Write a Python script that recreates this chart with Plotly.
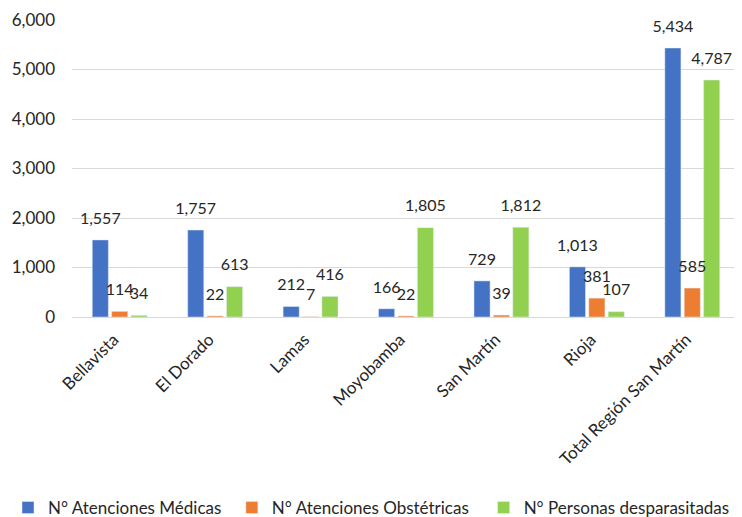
import plotly.graph_objects as go

# data
provincias = ["Bellavista", "El Dorado", "Lamas", "Moyobamba", "San Martín", "Rioja",
              "Total Región San Martín"]
atenciones_medicas = [1557, 1757, 212, 166, 729, 1013, 5434]
atenciones_obstetricas = [114, 22, 7, 22, 39, 381, 585]
personas_desparasitadas = [34, 613, 416, 1805, 1812, 107, 4787]

series = [
    ("N° Atenciones Médicas", atenciones_medicas, "#4472C4"),
    ("N° Atenciones Obstétricas", atenciones_obstetricas, "#ED7D31"),
    ("N° Personas desparasitadas", personas_desparasitadas, "#92D050"),
]
# left edge of each legend entry, as a fraction of the figure width
legend_x = [-0.004, 0.305, 0.648]

FONT = "Lato, 'Open Sans', sans-serif"
TXT = "#262626"

fig = go.Figure()

legend_names = ["legend", "legend2", "legend3"]
for i, (name, vals, color) in enumerate(series):
    fig.add_trace(go.Bar(
        x=provincias, y=vals, name=name, marker_color=color,
        offsetgroup=str(i), legend=legend_names[i],
    ))

# data labels, sitting a little above each bar (like the Excel labels)
for i, (name, vals, color) in enumerate(series):
    fig.add_trace(go.Scatter(
        x=provincias, y=vals, mode="markers+text",
        text=[f"{v:,}" for v in vals], textposition="top center",
        textfont=dict(size=16, color=TXT, family=FONT),
        marker=dict(size=18, color="rgba(0,0,0,0)"),
        offsetgroup=str(i), showlegend=False, hoverinfo="skip",
        cliponaxis=False,
    ))

# the page adds an 8px body margin, so the figure is 8px smaller than the window
fig.update_layout(
    width=734, height=509,
    margin=dict(l=64, r=2, t=12, b=200, autoexpand=False),
    paper_bgcolor="white", plot_bgcolor="white",
    font=dict(family=FONT, size=17, color=TXT),
    barmode="group", bargap=0.39, bargroupgap=0.17,
    scattermode="group", scattergap=0.39,
    showlegend=True,
)
for lname, lx in zip(legend_names, legend_x):
    fig.update_layout({lname: dict(
        orientation="h", xref="container", yref="paper",
        x=lx, xanchor="left", y=-0.643, yanchor="middle",
        font=dict(size=17, color=TXT), itemwidth=30,
        bgcolor="rgba(0,0,0,0)",
    )})

fig.update_xaxes(tickangle=-45, showgrid=False, showline=True, linecolor="#D9D9D9",
                 linewidth=1, ticks="", automargin=False,
                 ticklabelstandoff=5, ticklabelshift=-6,
                 tickfont=dict(size=17, color=TXT))
fig.update_yaxes(range=[0, 6000], dtick=1000, tickformat=",", showgrid=True,
                 gridcolor="#D9D9D9", gridwidth=1, zeroline=False, ticks="",
                 automargin=False, tickfont=dict(size=17, color=TXT),
                 ticklabelstandoff=16)

fig.write_html("out.html")
